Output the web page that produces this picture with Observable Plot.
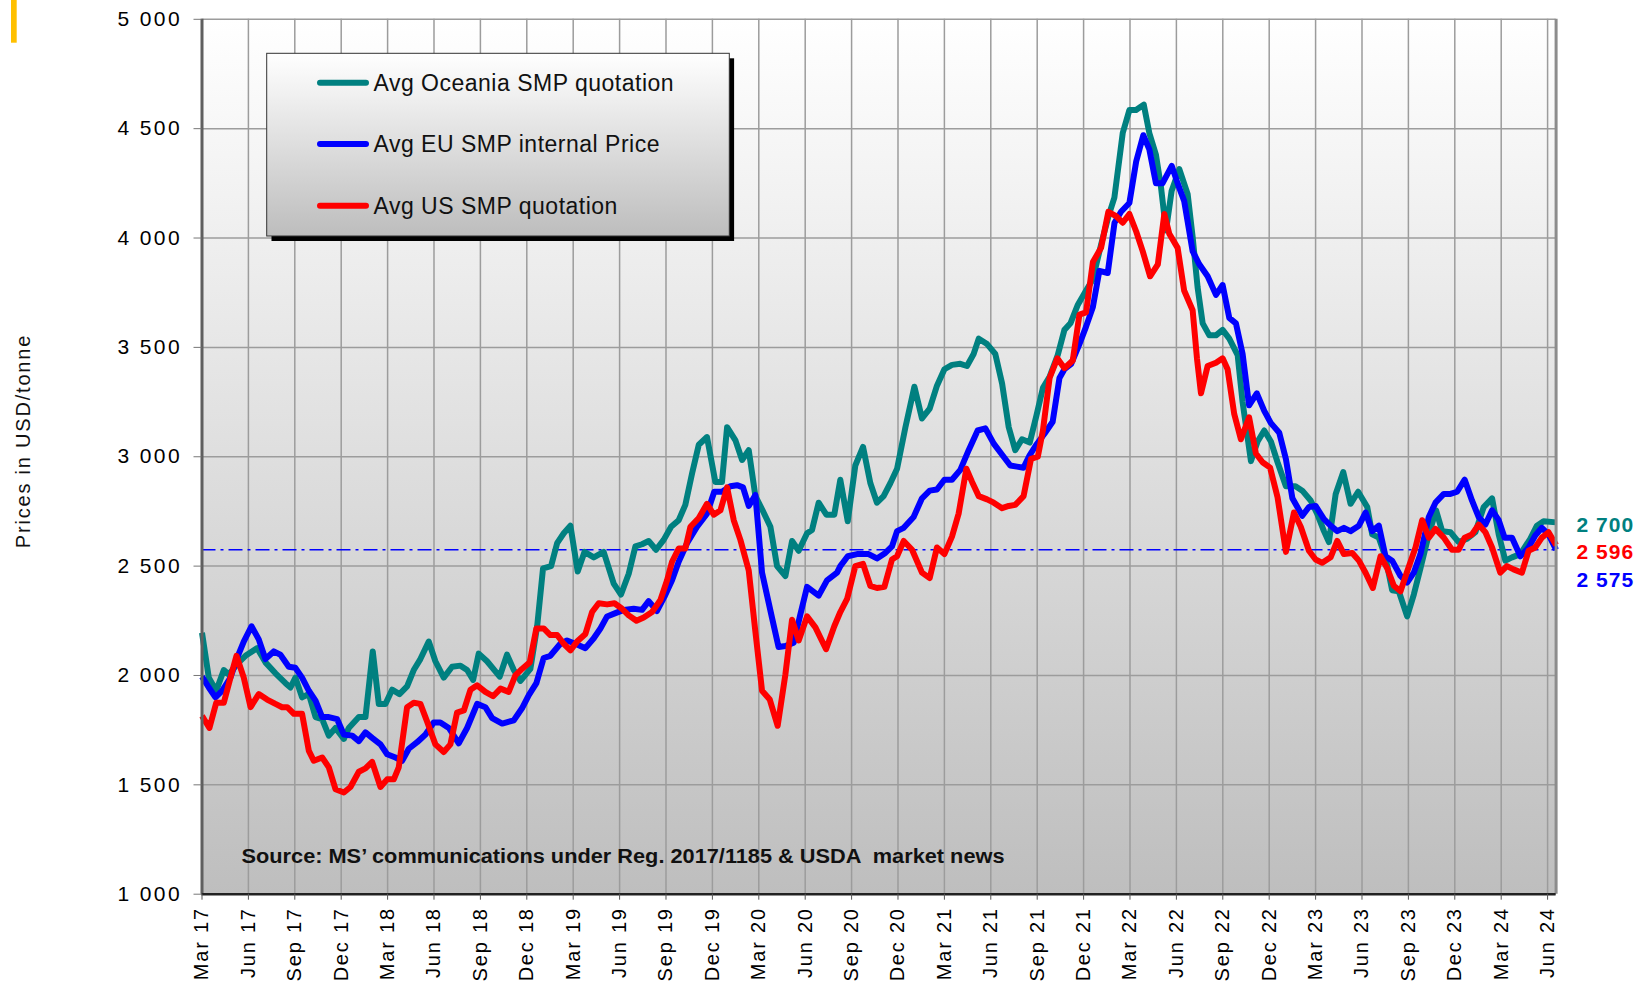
<!DOCTYPE html>
<html><head><meta charset="utf-8">
<script src="https://cdn.jsdelivr.net/npm/d3@7"></script>
<script src="https://cdn.jsdelivr.net/npm/@observablehq/plot@0.6"></script>
<style>
html,body{margin:0;padding:0;background:#fff;overflow:hidden;}
#chart{position:relative;width:1637px;height:988px;}
</style></head>
<body><div id="chart"></div>
<script>
// ---------- DATA ----------
// x values are months elapsed since the "Mar 17" tick (weekly-ish readings)
const seriesNames = ["Avg Oceania SMP quotation", "Avg EU SMP internal Price", "Avg US SMP quotation"];
const seriesColors = ["#008080", "#0000ff", "#ff0000"];

const xTicks = [0,3,6,9,12,15,18,21,24,27,30,33,36,39,42,45,48,51,54,57,60,63,66,69,72,75,78,81,84,87];
const xTickLabels = ["Mar 17","Jun 17","Sep 17","Dec 17","Mar 18","Jun 18","Sep 18","Dec 18","Mar 19","Jun 19","Sep 19","Dec 19","Mar 20","Jun 20","Sep 20","Dec 20","Mar 21","Jun 21","Sep 21","Dec 21","Mar 22","Jun 22","Sep 22","Dec 22","Mar 23","Jun 23","Sep 23","Dec 23","Mar 24","Jun 24"];
const xDomain = [0, 87.55];

const yTicks = [1000,1500,2000,2500,3000,3500,4000,4500,5000];
const yTickLabels = ["1 000","1 500","2 000","2 500","3 000","3 500","4 000","4 500","5 000"];

const oceania = [[0,2195],[0.44,1990],[0.92,1930],[1.41,2025],[1.73,2005],[2.38,2060],[2.81,2090],[3.57,2125],[4.10,2060],[4.75,2010],[5.40,1965],[5.72,1945],[6.04,1990],[6.47,1900],[6.91,1915],[7.34,1810],[7.77,1800],[8.20,1725],[8.63,1760],[9.17,1710],[9.49,1760],[10.14,1810],[10.57,1810],[11.04,2110],[11.43,1870],[11.86,1870],[12.29,1935],[12.77,1915],[13.26,1950],[13.69,2025],[14.12,2075],[14.66,2155],[15.09,2065],[15.63,1990],[16.17,2040],[16.71,2045],[17.14,2025],[17.53,1980],[17.89,2100],[18.43,2065],[19.25,1995],[19.72,2095],[20.16,2025],[20.59,1975],[21.23,2030],[21.67,2225],[22.05,2490],[22.57,2500],[22.96,2605],[23.39,2650],[23.82,2685],[24.29,2475],[24.73,2565],[25.33,2540],[25.97,2565],[26.62,2420],[27.09,2370],[27.59,2465],[28.02,2590],[28.45,2600],[28.88,2615],[29.36,2575],[29.85,2620],[30.33,2680],[30.82,2710],[31.25,2780],[31.69,2925],[32.12,3055],[32.65,3090],[33.19,2885],[33.62,2885],[33.95,3135],[34.49,3075],[34.92,2985],[35.35,3030],[35.78,2820],[36.21,2760],[36.75,2680],[37.18,2500],[37.72,2455],[38.15,2615],[38.58,2570],[39.12,2650],[39.44,2665],[39.87,2790],[40.37,2735],[40.88,2735],[41.27,2895],[41.75,2705],[42.24,2960],[42.74,3045],[43.21,2880],[43.64,2790],[44.07,2820],[44.51,2880],[44.94,2945],[45.48,3135],[46.06,3320],[46.55,3175],[47.05,3220],[47.52,3325],[48.00,3400],[48.49,3420],[49.03,3425],[49.46,3415],[49.89,3470],[50.22,3540],[50.76,3515],[51.29,3470],[51.73,3335],[52.16,3135],[52.58,3030],[53.02,3080],[53.52,3065],[53.94,3185],[54.37,3315],[54.80,3365],[55.33,3465],[55.76,3580],[56.15,3610],[56.63,3695],[57.16,3760],[57.59,3810],[58.13,3970],[58.61,4100],[58.99,4185],[59.53,4480],[59.96,4585],[60.39,4585],[60.89,4610],[61.25,4480],[61.68,4380],[62.00,4235],[62.33,4035],[62.69,4215],[63.19,4315],[63.73,4200],[64.05,4005],[64.37,3775],[64.70,3610],[65.13,3555],[65.56,3555],[65.99,3580],[66.42,3540],[66.96,3465],[67.28,3250],[67.82,2980],[68.25,3070],[68.68,3120],[69.11,3070],[69.54,2975],[70.08,2865],[70.70,2865],[71.14,2845],[71.68,2800],[72.10,2740],[72.54,2660],[72.86,2610],[73.30,2830],[73.79,2930],[74.26,2785],[74.75,2840],[75.34,2770],[75.66,2645],[76.09,2630],[76.52,2540],[76.95,2390],[77.38,2385],[77.92,2270],[78.35,2370],[78.78,2490],[79.32,2645],[79.79,2755],[80.18,2660],[80.72,2655],[81.25,2610],[81.80,2625],[82.33,2655],[82.87,2770],[83.41,2810],[83.84,2645],[84.27,2525],[84.70,2540],[85.24,2555],[85.88,2625],[86.31,2685],[86.74,2705],[87.55,2700]];

const eu = [[0,1995],[0.44,1945],[0.87,1900],[1.30,1930],[1.84,1990],[2.27,2080],[2.70,2155],[3.20,2225],[3.67,2165],[4.10,2075],[4.64,2110],[5.07,2095],[5.61,2040],[6.04,2035],[6.47,1990],[6.91,1930],[7.34,1885],[7.77,1810],[8.20,1810],[8.74,1800],[9.17,1730],[9.71,1725],[10.14,1700],[10.57,1740],[11.00,1715],[11.54,1685],[11.97,1640],[12.51,1625],[12.94,1610],[13.37,1665],[13.91,1695],[14.45,1730],[14.98,1785],[15.41,1785],[15.96,1760],[16.60,1690],[17.14,1760],[17.79,1870],[18.32,1855],[18.76,1805],[19.41,1780],[20.16,1795],[20.69,1850],[21.13,1910],[21.62,1965],[22.09,2080],[22.52,2090],[23.17,2145],[23.60,2160],[24.14,2145],[24.79,2125],[25.33,2170],[25.76,2215],[26.19,2270],[26.73,2285],[27.27,2300],[27.91,2305],[28.45,2300],[28.88,2340],[29.42,2295],[29.90,2360],[30.39,2435],[30.82,2520],[31.36,2605],[32.01,2680],[32.65,2740],[33.12,2840],[33.62,2840],[34.16,2865],[34.59,2870],[34.98,2860],[35.35,2775],[35.78,2825],[36.21,2470],[36.85,2265],[37.28,2130],[37.72,2135],[38.26,2150],[38.69,2280],[39.12,2405],[39.87,2365],[40.41,2435],[41.06,2470],[41.27,2500],[41.75,2545],[42.35,2555],[43.10,2555],[43.64,2535],[44.18,2560],[44.61,2590],[44.94,2660],[45.37,2675],[46.01,2725],[46.55,2810],[47.05,2845],[47.52,2850],[48.00,2895],[48.49,2895],[49.03,2940],[49.57,3030],[50.15,3120],[50.65,3130],[51.19,3060],[51.83,3000],[52.26,2960],[52.69,2955],[53.12,2950],[53.50,3005],[53.94,3055],[54.47,3105],[55.00,3160],[55.44,3360],[55.76,3400],[56.20,3425],[56.73,3515],[57.16,3595],[57.60,3685],[58.02,3850],[58.56,3840],[59.00,4070],[59.42,4120],[59.96,4160],[60.40,4350],[60.86,4470],[61.25,4405],[61.68,4250],[62.10,4250],[62.70,4330],[63.08,4250],[63.50,4170],[64.05,3940],[64.48,3880],[65.02,3825],[65.56,3740],[65.99,3785],[66.42,3635],[66.85,3610],[67.28,3470],[67.70,3235],[68.20,3290],[68.68,3210],[69.10,3155],[69.65,3110],[70.08,2990],[70.50,2810],[71.14,2730],[71.57,2770],[72.00,2775],[72.54,2715],[72.97,2685],[73.40,2660],[73.83,2675],[74.26,2660],[74.80,2685],[75.23,2745],[75.66,2660],[76.09,2685],[76.52,2545],[76.95,2525],[77.49,2455],[77.92,2425],[78.35,2470],[78.78,2555],[79.32,2725],[79.75,2790],[80.29,2830],[80.72,2830],[81.15,2840],[81.64,2895],[82.11,2800],[82.54,2725],[82.98,2690],[83.41,2755],[83.84,2710],[84.22,2630],[84.70,2630],[85.24,2545],[85.77,2585],[86.20,2640],[86.63,2675],[87.06,2645],[87.55,2575]];

const us = [[0,1815],[0.48,1760],[0.92,1875],[1.41,1875],[1.84,1990],[2.23,2090],[2.70,1990],[3.14,1855],[3.67,1915],[4.21,1890],[4.75,1870],[5.18,1855],[5.51,1855],[5.94,1825],[6.47,1825],[6.91,1655],[7.23,1610],[7.77,1625],[8.20,1580],[8.63,1480],[9.17,1465],[9.60,1490],[10.14,1560],[10.57,1575],[11.00,1605],[11.54,1490],[11.97,1525],[12.40,1525],[12.72,1580],[13.26,1855],[13.69,1875],[14.12,1870],[14.55,1790],[15.09,1685],[15.63,1650],[16.06,1685],[16.49,1830],[16.93,1840],[17.36,1935],[17.79,1955],[18.32,1925],[18.82,1905],[19.30,1940],[19.83,1925],[20.26,2000],[20.69,2030],[21.19,2060],[21.62,2215],[22.09,2215],[22.52,2185],[22.96,2185],[23.39,2145],[23.82,2115],[24.25,2155],[24.79,2190],[25.22,2290],[25.65,2330],[26.19,2325],[26.67,2330],[27.16,2305],[27.59,2275],[28.09,2250],[28.56,2265],[29.10,2290],[29.64,2345],[30.07,2435],[30.39,2520],[30.82,2580],[31.25,2580],[31.58,2680],[32.12,2720],[32.65,2785],[33.09,2735],[33.52,2755],[33.95,2860],[34.38,2710],[34.81,2620],[35.35,2480],[35.78,2200],[36.21,1930],[36.71,1890],[37.22,1770],[37.72,2005],[38.15,2255],[38.58,2160],[39.12,2270],[39.66,2220],[40.35,2120],[40.88,2225],[41.27,2290],[41.71,2350],[42.24,2500],[42.74,2510],[43.21,2410],[43.64,2400],[44.12,2405],[44.61,2530],[44.94,2545],[45.37,2615],[45.91,2575],[46.55,2470],[47.05,2445],[47.52,2585],[48.00,2555],[48.49,2635],[48.92,2740],[49.42,2945],[49.79,2885],[50.22,2820],[50.76,2805],[51.19,2790],[51.73,2765],[52.16,2775],[52.58,2780],[53.12,2820],[53.60,2990],[54.04,3000],[54.37,3120],[54.80,3360],[55.30,3450],[55.76,3405],[56.30,3440],[56.73,3650],[57.16,3660],[57.60,3890],[58.13,3955],[58.60,4120],[59.10,4100],[59.53,4070],[59.96,4110],[60.40,4030],[60.82,3940],[61.30,3825],[61.80,3880],[62.22,4110],[62.54,4020],[63.08,3955],[63.50,3760],[64.05,3670],[64.33,3450],[64.59,3290],[65.02,3415],[65.56,3430],[65.99,3450],[66.31,3400],[66.74,3195],[67.17,3080],[67.70,3180],[68.14,3015],[68.57,2975],[69.06,2950],[69.54,2815],[70.08,2565],[70.60,2745],[71.04,2680],[71.57,2570],[72.00,2530],[72.43,2515],[72.97,2540],[73.40,2615],[73.83,2555],[74.37,2560],[74.80,2525],[75.23,2470],[75.70,2400],[76.20,2545],[76.63,2490],[77.06,2410],[77.49,2385],[77.92,2475],[78.46,2585],[78.89,2710],[79.32,2630],[79.75,2670],[80.29,2630],[80.82,2575],[81.25,2575],[81.64,2630],[82.11,2645],[82.54,2690],[82.98,2655],[83.41,2585],[83.94,2470],[84.37,2500],[84.80,2485],[85.34,2470],[85.77,2570],[86.20,2585],[86.63,2630],[87.06,2655],[87.55,2596]];

// latest values printed at the right edge
const lastSeries = ["Avg Oceania SMP quotation", "Avg US SMP quotation", "Avg EU SMP internal Price"];
const lastValues = [2700, 2596, 2575];
const lastLabels = ["2 700", "2 596", "2 575"];
const refLevel = 2575; // latest EU price, dash-dot reference line

const yTitle = "Prices in USD/tonne";
const sourceText = "Source: MS\u2019 communications under Reg. 2017/1185 & USDA  market news";

// ---------- TABLE ----------
const rows = [];
[oceania, eu, us].forEach((s, k) => s.forEach(([m, v]) => rows.push({series: seriesNames[k], month: m, value: v})));
const lastRows = lastValues.map((v, i) => ({series: lastSeries[i], value: v, label: lastLabels[i]}));

const FONT = "'Liberation Sans', Arial, Helvetica, sans-serif";
const labelShift = [3, 7.5, 31];

const chart = Plot.plot({
  width: 1637, height: 988,
  marginLeft: 201.5, marginRight: 81.4, marginTop: 18.8, marginBottom: 94.3,
  style: {fontFamily: FONT, background: "transparent", color: "#000", overflow: "visible"},
  x: {type: "linear", domain: xDomain},
  y: {type: "linear", domain: [1000, 5000]},
  color: {domain: seriesNames, range: seriesColors},
  marks: [
    Plot.frame({fill: "url(#plotBg)", stroke: "none"}),
    Plot.gridX(xTicks.slice(1), {stroke: "#9c9c9c", strokeOpacity: 1, strokeWidth: 1.5}),
    Plot.gridY(yTicks, {stroke: "#9c9c9c", strokeOpacity: 1, strokeWidth: 1.5}),
    Plot.ruleY([refLevel], {stroke: "#0000ff", strokeWidth: 1.5, strokeDasharray: "14,5,3,5"}),
    Plot.line(rows, {x: "month", y: "value", z: "series", stroke: "series", strokeWidth: 6, strokeLinejoin: "round", strokeLinecap: "butt"}),
    Plot.ruleX([xDomain[1]], {stroke: "#8c8c8c", strokeWidth: 3}),
    Plot.ruleX([0], {stroke: "#5f5f5f", strokeWidth: 3}),
    Plot.ruleY([1000], {stroke: "#222", strokeWidth: 2.5}),
    Plot.axisY({ticks: yTicks, tickFormat: d => yTickLabels[yTicks.indexOf(d)], tickSize: 8, tickPadding: 12, fontSize: 21, label: null, stroke: "#777"}),
    Plot.axisX({ticks: xTicks, tickFormat: d => xTickLabels[xTicks.indexOf(d)], tickRotate: -90, tickSize: 6, tickPadding: 7, fontSize: 20, label: null, stroke: "#555"}),
    ...lastRows.map((r, i) => Plot.text([r], {x: () => xDomain[1], y: "value", text: "label", fill: "series", dx: 20.5, dy: labelShift[i], textAnchor: "start", lineAnchor: "middle", fontWeight: "bold", fontSize: 21})),
    Plot.text([sourceText], {text: d => d, frameAnchor: "bottom-left", dx: 39.5, dy: -37.7, textAnchor: "start", lineAnchor: "middle", fontWeight: "bold", fontSize: 20, fill: "#111"})
  ]
});

const svg = d3.select(chart);
const defs = svg.insert("defs", ":first-child");
const g1 = defs.append("linearGradient").attr("id", "plotBg").attr("x1", 0).attr("y1", 0).attr("x2", 0).attr("y2", 1);
g1.append("stop").attr("offset", "0%").attr("stop-color", "#ffffff");
g1.append("stop").attr("offset", "100%").attr("stop-color", "#bebebe");
const g2 = defs.append("linearGradient").attr("id", "legendBg").attr("x1", 0).attr("y1", 0).attr("x2", 0).attr("y2", 1);
g2.append("stop").attr("offset", "0%").attr("stop-color", "#ffffff");
g2.append("stop").attr("offset", "100%").attr("stop-color", "#bdbdbd");

svg.selectAll('g[aria-label="y-axis tick label"] text').attr("letter-spacing", 2.4);
svg.selectAll('g[aria-label="x-axis tick label"] text').attr("letter-spacing", 1.8);
svg.selectAll("text").filter(function () { return lastLabels.includes(this.textContent); }).attr("letter-spacing", 1);
svg.selectAll("text").filter(function () { return this.textContent === sourceText; })
  .attr("letter-spacing", 0).attr("textLength", 763).attr("lengthAdjust", "spacingAndGlyphs");

// legend box
const lg = svg.append("g").attr("aria-label", "legend").attr("text-anchor", "start");
lg.append("rect").attr("x", 271.5).attr("y", 58.3).attr("width", 462.6).attr("height", 182.7).attr("fill", "#000");
lg.append("rect").attr("x", 266.7).attr("y", 53.3).attr("width", 462.6).attr("height", 182.7).attr("fill", "url(#legendBg)").attr("stroke", "#333").attr("stroke-width", 1);
const legendY = [82.7, 144, 205.7];
seriesNames.forEach((name, i) => {
  lg.append("line").attr("x1", 320).attr("x2", 366).attr("y1", legendY[i]).attr("y2", legendY[i])
    .attr("stroke", seriesColors[i]).attr("stroke-width", 6).attr("stroke-linecap", "round");
  lg.append("text").attr("x", 373.5).attr("y", legendY[i]).attr("dy", "0.35em").attr("text-anchor", "start")
    .attr("font-size", 23).attr("letter-spacing", 0.5).attr("fill", "#111").text(name);
});

// y axis title
svg.append("text").attr("transform", "translate(23,441) rotate(-90)").attr("text-anchor", "middle").attr("dy", "0.35em")
  .attr("font-size", 20).attr("letter-spacing", 1.8).attr("fill", "#111").text(yTitle);

// small accent bar, top left
svg.append("rect").attr("x", 11).attr("y", 0).attr("width", 5.7).attr("height", 42.7).attr("fill", "#ffc000");

document.getElementById("chart").appendChild(chart);
</script>
</body></html>
